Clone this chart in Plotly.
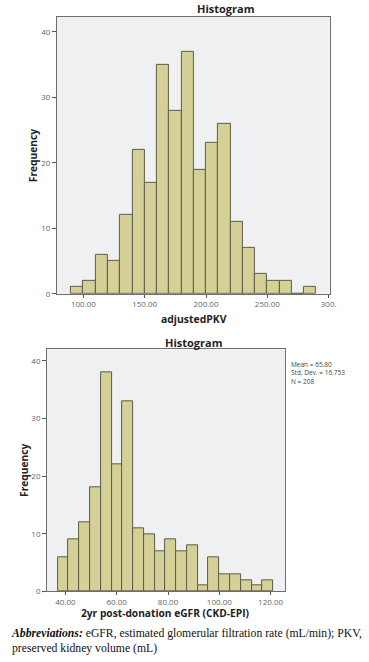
import plotly.graph_objects as go

# ---- data: top histogram (adjustedPKV) ----
pkv_bin_start = 90.0
pkv_bin_width = 10.0
pkv_counts = [1, 2, 6, 5, 12, 22, 17, 35, 28, 37, 19, 23, 26, 11, 7, 3, 2, 2, 0, 1]
pkv_tickvals = [100, 150, 200, 250, 300]
pkv_ticktext = ["100.00", "150.00", "200.00", "250.00", "300."]

# ---- data: bottom histogram (2yr eGFR) ----
egfr_bin_start = 37.0
egfr_bin_width = 4.2
egfr_counts = [6, 9, 12, 18, 38, 22, 33, 11, 10, 7, 9, 7, 8, 1, 6, 3, 3, 2, 1, 2]
egfr_tickvals = [40, 60, 80, 100, 120]
egfr_ticktext = ["40.00", "60.00", "80.00", "100.00", "120.00"]

freq_tickvals = [0, 10, 20, 30, 40]
stats_text = "Mean = 65.80<br>Std. Dev. = 16.753<br>N = 208"

W, H = 369, 662
BAR_FILL = "#D5D097"
BAR_EDGE = "#5E5C45"
PLOT_BG = "#EEF0F2"
SANS = "Open Sans, DejaVu Sans, sans-serif"

def centers(start, width, counts):
    return [start + width * (i + 0.5) for i in range(len(counts))]

fig = go.Figure()
fig.add_trace(go.Bar(
    x=centers(pkv_bin_start, pkv_bin_width, pkv_counts), y=pkv_counts,
    width=[pkv_bin_width] * len(pkv_counts),
    marker=dict(color=BAR_FILL, line=dict(color=BAR_EDGE, width=1)),
    xaxis="x", yaxis="y", showlegend=False, hoverinfo="x+y"))
fig.add_trace(go.Bar(
    x=centers(egfr_bin_start, egfr_bin_width, egfr_counts), y=egfr_counts,
    width=[egfr_bin_width] * len(egfr_counts),
    marker=dict(color=BAR_FILL, line=dict(color=BAR_EDGE, width=1)),
    xaxis="x2", yaxis="y2", showlegend=False, hoverinfo="x+y"))

def px(v):
    return v / W
def py(v):
    return 1 - v / H

axis_common = dict(showgrid=False, zeroline=False, showline=True, mirror=True,
                   linecolor="#6E6E6E", linewidth=1, ticks="outside", ticklen=4,
                   tickcolor="#555", tickfont=dict(family=SANS, size=8, color="#666"))
xaxis_common = dict(axis_common, ticklen=3)

fig.update_layout(
    width=W, height=H, margin=dict(l=0, r=0, t=0, b=0),
    paper_bgcolor="white", plot_bgcolor=PLOT_BG, bargap=0,
    xaxis=dict(domain=[px(58), px(336)], range=[78.4, 300.8], anchor="y",
               tickvals=pkv_tickvals, ticktext=pkv_ticktext, **xaxis_common),
    yaxis=dict(domain=[py(296), py(17)], range=[0, 42.3], anchor="x",
               tickvals=freq_tickvals, **axis_common),
    xaxis2=dict(domain=[px(48), px(291)], range=[32.85, 125.8], anchor="y2",
                tickvals=egfr_tickvals, ticktext=egfr_ticktext, **xaxis_common),
    yaxis2=dict(domain=[py(596), py(352)], range=[0, 42.0], anchor="x2",
                tickvals=freq_tickvals, **axis_common),
)

def label(text, x, y, size=11, angle=0):
    return dict(text=text, x=px(x), y=py(y), xref="paper", yref="paper",
                xanchor="center", yanchor="middle", showarrow=False, textangle=angle,
                font=dict(family=SANS, size=size, color="#222"))

annots = [
    label("<b>Histogram</b>", 230, 9),
    label("<b>Histogram</b>", 197, 345),
    label("<b>adjustedPKV</b>", 198, 321, size=10.4),
    label("<b>2yr post-donation eGFR (CKD-EPI)</b>", 169, 618, size=10.2),
    label("<b>Frequency</b>", 33, 157, size=10.2, angle=-90),
    label("<b>Frequency</b>", 25, 474, size=10.2, angle=-90),
    dict(text=stats_text, x=px(295), y=py(361), xref="paper", yref="paper",
         xanchor="left", yanchor="top", align="left", showarrow=False,
         font=dict(family=SANS, size=6.5, color="#444")),
    dict(text="<b><i>Abbreviations:</i></b> eGFR, estimated glomerular filtration rate (mL/min); PKV,<br>preserved kidney volume (mL)",
         x=px(9), y=py(630), xref="paper", yref="paper",
         xanchor="left", yanchor="top", align="left", showarrow=False,
         font=dict(family="Liberation Serif, serif", size=11.7, color="#111")),
]
fig.update_layout(annotations=annots)

fig.write_html(
    "out.html",
    config={"displayModeBar": False},
    post_script=("document.documentElement.style.margin='0';"
                 "document.documentElement.style.overflow='hidden';"
                 "document.body.style.margin='0';"
                 "document.body.style.overflow='hidden';"),
)
